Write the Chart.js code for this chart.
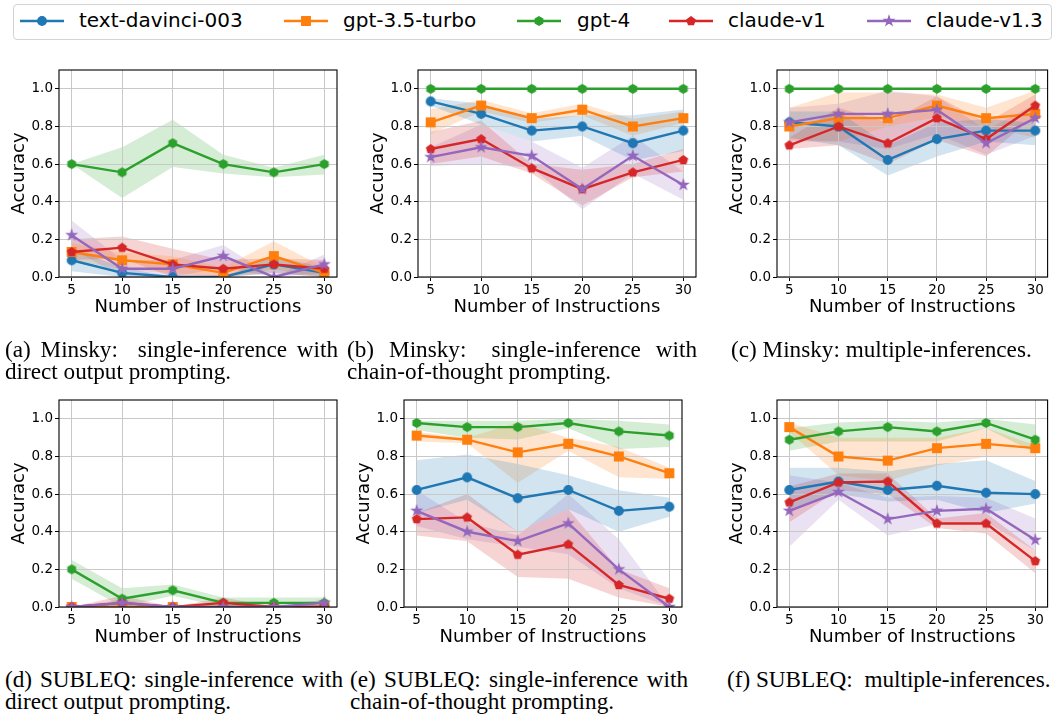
<!DOCTYPE html>
<html>
<head>
<meta charset="utf-8">
<script src="https://cdn.jsdelivr.net/npm/chart.js@4.4.0/dist/chart.umd.min.js"></script>
<style>
body { margin: 0; width: 1055px; height: 721px; position: relative; background: #fff; overflow: hidden; }
canvas.painel { position: absolute; }
.caixa-legenda { position: absolute; left: 13px; top: 4px; width: 1039px; height: 36px; border: 1px solid #d3d3d3; border-radius: 4px; box-sizing: border-box; }
.simbolo { position: absolute; top: 11px; }
.rotulo { position: absolute; top: 10px; font-family: 'DejaVu Sans'; font-size: 20px; line-height: 20px; white-space: nowrap; color: #000; }
.legenda-fig { position: absolute; font-family: 'Liberation Serif'; font-size: 23.2px; line-height: 21.5px; text-align: justify; color: #000; }
.legenda-fig.linha { white-space: nowrap; text-align: left; }
.dois-pontos { margin-right: 10px; }
.dois-pontos-f { margin-right: 6px; }
</style>
</head>
<body>
<div class="caixa-legenda"></div>

<canvas class="painel" id="painel-a" width="350" height="280" style="left:0px;top:45px"></canvas>
<canvas class="painel" id="painel-b" width="355" height="280" style="left:350px;top:45px"></canvas>
<canvas class="painel" id="painel-c" width="350" height="280" style="left:705px;top:45px"></canvas>
<canvas class="painel" id="painel-d" width="350" height="280" style="left:0px;top:375px"></canvas>
<canvas class="painel" id="painel-e" width="355" height="280" style="left:350px;top:375px"></canvas>
<canvas class="painel" id="painel-f" width="350" height="280" style="left:705px;top:375px"></canvas>

<div class="legenda-fig" style="left:5px;top:339px;width:333px">(a) Minsky:<span class="dois-pontos"></span> single-inference with direct output prompting.</div>
<div class="legenda-fig" style="left:347px;top:339px;width:350px">(b) Minsky:<span class="dois-pontos"></span> single-inference with chain-of-thought prompting.</div>
<div class="legenda-fig linha" style="left:731px;top:339px">(c) Minsky: multiple-inferences.</div>
<div class="legenda-fig" style="left:5px;top:669px;width:338px">(d) SUBLEQ: single-inference with direct output prompting.</div>
<div class="legenda-fig" style="left:350px;top:669px;width:338px">(e) SUBLEQ: single-inference with chain-of-thought prompting.</div>
<div class="legenda-fig linha" style="left:727px;top:669px">(f) SUBLEQ:<span class="dois-pontos-f"></span> multiple-inferences.</div>

<script>
// DADOS
const instrucoes = [5, 10, 15, 20, 25, 30]
const yTicks = [0, 0.2, 0.4, 0.6, 0.8, 1.0]
const modelos = ['text-davinci-003', 'gpt-3.5-turbo', 'gpt-4', 'claude-v1', 'claude-v1.3']

// (a) Minsky, direct output -- uma linha por modelo, na ordem de "modelos"
const minskyDiretoMedia = [
    [0.089, 0.022, 0.0, 0.0, 0.067, 0.022],
    [0.133, 0.089, 0.067, 0.022, 0.111, 0.022],
    [0.6, 0.556, 0.711, 0.6, 0.556, 0.6],
    [0.133, 0.156, 0.067, 0.044, 0.067, 0.044],
    [0.222, 0.044, 0.044, 0.111, 0.0, 0.067]
]
const minskyDiretoMin = [
    [0.03, 0.0, 0.0, 0.0, 0.02, 0.0],
    [0.09, 0.04, 0.02, 0.0, 0.04, 0.0],
    [0.6, 0.42, 0.585, 0.55, 0.53, 0.545],
    [0.09, 0.1, 0.0, 0.0, 0.02, 0.0],
    [0.15, 0.0, 0.0, 0.05, 0.0, 0.02]
]
const minskyDiretoMax = [
    [0.15, 0.05, 0.0, 0.0, 0.11, 0.05],
    [0.18, 0.13, 0.11, 0.05, 0.19, 0.05],
    [0.6, 0.69, 0.835, 0.65, 0.58, 0.65],
    [0.2, 0.215, 0.15, 0.09, 0.1, 0.09],
    [0.3, 0.09, 0.09, 0.17, 0.0, 0.12]
]

// (b) Minsky, chain-of-thought
const minskyCotMedia = [
    [0.933, 0.867, 0.778, 0.8, 0.711, 0.778],
    [0.822, 0.911, 0.844, 0.889, 0.8, 0.844],
    [1.0, 1.0, 1.0, 1.0, 1.0, 1.0],
    [0.68, 0.733, 0.578, 0.467, 0.556, 0.622],
    [0.637, 0.689, 0.644, 0.467, 0.644, 0.489]
]
const minskyCotMin = [
    [0.91, 0.81, 0.72, 0.75, 0.62, 0.67],
    [0.76, 0.88, 0.82, 0.86, 0.75, 0.82],
    [1.0, 1.0, 1.0, 1.0, 1.0, 1.0],
    [0.6, 0.64, 0.55, 0.38, 0.53, 0.56],
    [0.59, 0.6, 0.58, 0.36, 0.55, 0.41]
]
const minskyCotMax = [
    [0.95, 0.92, 0.84, 0.86, 0.86, 0.89],
    [0.89, 0.94, 0.87, 0.92, 0.84, 0.88],
    [1.0, 1.0, 1.0, 1.0, 1.0, 1.0],
    [0.77, 0.83, 0.6, 0.57, 0.6, 0.68],
    [0.69, 0.81, 0.72, 0.58, 0.75, 0.56]
]

// (c) Minsky, multiple-inferences
const minskyMultiMedia = [
    [0.822, 0.8, 0.622, 0.733, 0.778, 0.778],
    [0.8, 0.844, 0.844, 0.911, 0.844, 0.867],
    [1.0, 1.0, 1.0, 1.0, 1.0, 1.0],
    [0.7, 0.8, 0.711, 0.844, 0.733, 0.911],
    [0.822, 0.867, 0.867, 0.889, 0.711, 0.844]
]
const minskyMultiMin = [
    [0.74, 0.7, 0.54, 0.64, 0.72, 0.7],
    [0.73, 0.72, 0.8, 0.85, 0.8, 0.74],
    [1.0, 1.0, 1.0, 1.0, 1.0, 1.0],
    [0.68, 0.7, 0.6, 0.73, 0.64, 0.86],
    [0.72, 0.72, 0.68, 0.76, 0.65, 0.75]
]
const minskyMultiMax = [
    [0.88, 0.88, 0.7, 0.82, 0.84, 0.82],
    [0.9, 0.98, 0.98, 0.97, 0.9, 0.99],
    [1.0, 1.0, 1.0, 1.0, 1.0, 1.0],
    [0.74, 0.9, 0.82, 0.96, 0.82, 0.97],
    [0.9, 0.92, 0.99, 0.96, 0.78, 0.92]
]

// (d) SUBLEQ, direct output
const subleqDiretoMedia = [
    [0.0, 0.0, 0.0, 0.0, 0.0, 0.0],
    [0.0, 0.0, 0.0, 0.0, 0.0, 0.0],
    [0.2, 0.044, 0.089, 0.022, 0.022, 0.022],
    [0.0, 0.022, 0.0, 0.022, 0.0, 0.0],
    [0.0, 0.022, 0.0, 0.0, 0.0, 0.022]
]
const subleqDiretoMin = [
    [0.0, 0.0, 0.0, 0.0, 0.0, 0.0],
    [0.0, 0.0, 0.0, 0.0, 0.0, 0.0],
    [0.15, 0.0, 0.06, 0.0, 0.0, 0.0],
    [0.0, 0.0, 0.0, 0.0, 0.0, 0.0],
    [0.0, 0.0, 0.0, 0.0, 0.0, 0.0]
]
const subleqDiretoMax = [
    [0.0, 0.0, 0.0, 0.0, 0.0, 0.0],
    [0.0, 0.0, 0.0, 0.0, 0.0, 0.0],
    [0.25, 0.1, 0.12, 0.05, 0.05, 0.05],
    [0.0, 0.06, 0.0, 0.05, 0.0, 0.0],
    [0.0, 0.04, 0.0, 0.0, 0.0, 0.04]
]

// (e) SUBLEQ, chain-of-thought
const subleqCotMedia = [
    [0.622, 0.689, 0.578, 0.622, 0.511, 0.533],
    [0.911, 0.889, 0.822, 0.867, 0.8, 0.711],
    [0.978, 0.956, 0.956, 0.978, 0.933, 0.911],
    [0.467, 0.476, 0.278, 0.333, 0.117, 0.044],
    [0.511, 0.4, 0.35, 0.444, 0.2, 0.0]
]
const subleqCotMin = [
    [0.5, 0.57, 0.4, 0.52, 0.4, 0.48],
    [0.88, 0.87, 0.66, 0.83, 0.69, 0.68],
    [0.94, 0.9, 0.89, 0.95, 0.84, 0.85],
    [0.38, 0.35, 0.16, 0.15, 0.05, 0.0],
    [0.43, 0.36, 0.32, 0.28, 0.1, 0.0]
]
const subleqCotMax = [
    [0.78, 0.81, 0.76, 0.7, 0.62, 0.58],
    [0.93, 0.9, 0.98, 0.9, 0.85, 0.74],
    [0.99, 0.99, 0.99, 1.0, 0.99, 0.97],
    [0.5, 0.6, 0.4, 0.52, 0.2, 0.1],
    [0.62, 0.45, 0.38, 0.6, 0.36, 0.0]
]

// (f) SUBLEQ, multiple-inferences
const subleqMultiMedia = [
    [0.622, 0.667, 0.622, 0.644, 0.607, 0.6],
    [0.956, 0.8, 0.778, 0.844, 0.867, 0.844],
    [0.889, 0.933, 0.956, 0.933, 0.978, 0.889],
    [0.556, 0.662, 0.667, 0.444, 0.444, 0.244],
    [0.511, 0.611, 0.467, 0.511, 0.522, 0.356]
]
const subleqMultiMin = [
    [0.52, 0.6, 0.56, 0.57, 0.5, 0.55],
    [0.93, 0.7, 0.67, 0.75, 0.8, 0.8],
    [0.83, 0.88, 0.88, 0.88, 0.95, 0.82],
    [0.45, 0.62, 0.6, 0.42, 0.39, 0.18],
    [0.32, 0.57, 0.38, 0.44, 0.45, 0.3]
]
const subleqMultiMax = [
    [0.74, 0.74, 0.72, 0.76, 0.78, 0.67],
    [0.98, 0.9, 0.9, 0.9, 0.95, 0.86],
    [0.95, 0.98, 0.99, 0.98, 1.0, 0.97],
    [0.64, 0.71, 0.71, 0.47, 0.5, 0.3],
    [0.7, 0.66, 0.58, 0.59, 0.58, 0.47]
]

// ESTILO
const cores = ['#1f77b4', '#ff7f0e', '#2ca02c', '#d62728', '#9467bd']
const coresFaixa = ['rgba(31,119,180,0.2)', 'rgba(255,127,14,0.2)', 'rgba(44,160,44,0.2)', 'rgba(214,39,40,0.2)', 'rgba(148,103,189,0.2)']
const formas = ['circle', 'square', 'hexagon', 'pentagon', 'star']
const corGrade = '#c8c8c8'

Chart.defaults.font.family = "'DejaVu Sans'"
Chart.defaults.color = '#000'

function desenhaMarcador(ctx, forma, cx, cy, r, cor) {
    ctx.fillStyle = cor
    ctx.strokeStyle = cor
    ctx.lineWidth = 1.3
    ctx.beginPath()
    if (forma === 'circle') {
        ctx.arc(cx, cy, r, 0, 2 * Math.PI)
    } else if (forma === 'square') {
        ctx.rect(cx - r, cy - r, 2 * r, 2 * r)
    } else {
        const estrela = forma === 'star'
        const n = estrela ? 10 : (forma === 'hexagon' ? 6 : 5)
        for (let k = 0; k < n; k++) {
            const ang = -Math.PI / 2 + k * 2 * Math.PI / n
            const rr = (estrela && k % 2) ? r * 0.382 : r
            const px = cx + rr * Math.cos(ang)
            const py = cy + rr * Math.sin(ang)
            if (k === 0) ctx.moveTo(px, py)
            else ctx.lineTo(px, py)
        }
    }
    ctx.closePath()
    ctx.fill()
    ctx.stroke()
}

// marcadores prontos para usar como pointStyle
const marcadores = formas.map(function(forma, i) {
    const c = document.createElement('canvas')
    c.width = 16
    c.height = 16
    desenhaMarcador(c.getContext('2d'), forma, 8, 8, forma === 'star' ? 4.8 : 4.3, cores[i])
    return c
})

// LEGENDA
const legendaLinhaX = [20, 284, 517, 669, 867]
const legendaTextoX = [79, 343, 577, 728, 926]
modelos.forEach(function(nome, i) {
    const c = document.createElement('canvas')
    c.width = 44
    c.height = 20
    c.className = 'simbolo'
    c.style.left = legendaLinhaX[i] + 'px'
    const ctx = c.getContext('2d')
    ctx.strokeStyle = cores[i]
    ctx.lineWidth = 2.6
    ctx.beginPath()
    ctx.moveTo(0, 10)
    ctx.lineTo(44, 10)
    ctx.stroke()
    desenhaMarcador(ctx, formas[i], 22, 10, formas[i] === 'star' ? 4.8 : 4.3, cores[i])
    document.body.appendChild(c)

    const span = document.createElement('span')
    span.className = 'rotulo'
    span.style.left = legendaTextoX[i] + 'px'
    span.textContent = nome
    document.body.appendChild(span)
})

// moldura preta em volta da area do grafico
const moldura = {
    id: 'moldura',
    afterDraw(chart) {
        const ctx = chart.ctx
        const a = chart.chartArea
        ctx.save()
        ctx.strokeStyle = '#000'
        ctx.lineWidth = 1.1
        ctx.strokeRect(a.left, a.top, a.right - a.left, a.bottom - a.top)
        ctx.restore()
    }
}

function pontos(valores) {
    return instrucoes.map(function(x, i) { return { x: x, y: valores[i] } })
}

function criaPainel(id, medias, minimos, maximos, larguraY, padDireita) {
    const datasets = []
    // linhas de media (primeiro, pra que o alvo do fill nunca seja o indice 0)
    for (let m = 0; m < modelos.length; m++) {
        datasets.push({
            label: modelos[m],
            data: pontos(medias[m]),
            borderColor: cores[m],
            backgroundColor: cores[m],
            borderWidth: 2.4,
            pointStyle: marcadores[m],
            pointRadius: 5,
            fill: false,
            tension: 0,
            order: 10 - m
        })
    }
    // faixas min-max
    for (let m = 0; m < modelos.length; m++) {
        datasets.push({
            data: pontos(minimos[m]),
            borderColor: 'transparent',
            borderWidth: 0,
            pointRadius: 0,
            fill: false,
            order: 50
        })
        datasets.push({
            data: pontos(maximos[m]),
            borderColor: 'transparent',
            borderWidth: 0,
            pointRadius: 0,
            backgroundColor: coresFaixa[m],
            fill: '-1',
            order: 50
        })
    }

    const ctx = document.getElementById(id).getContext('2d')
    return new Chart(ctx, {
        type: 'line',
        data: { datasets: datasets },
        plugins: [moldura],
        options: {
            responsive: false,
            animation: false,
            events: [],
            clip: 0,
            layout: { padding: { left: 0, top: 25, right: padDireita, bottom: 0 } },
            scales: {
                x: {
                    type: 'linear',
                    min: 3.75,
                    max: 31.25,
                    afterBuildTicks: function(ax) { ax.ticks = instrucoes.map(function(v) { return { value: v } }) },
                    afterFit: function(ax) { ax.height = 48 },
                    ticks: {
                        callback: function(v) { return String(v) },
                        font: { size: 13.5 },
                        color: '#000',
                        padding: 1,
                        maxRotation: 0,
                        autoSkip: false
                    },
                    grid: { color: corGrade, lineWidth: 1, tickLength: 4, tickColor: '#000', drawTicks: true },
                    border: { display: false },
                    title: {
                        display: true,
                        text: 'Number of Instructions',
                        font: { size: 18 },
                        color: '#000',
                        padding: { top: 0, bottom: 7 }
                    }
                },
                y: {
                    type: 'linear',
                    min: 0,
                    max: 1.1,
                    afterBuildTicks: function(ax) { ax.ticks = yTicks.map(function(v) { return { value: v } }) },
                    afterFit: function(ax) { ax.width = larguraY },
                    ticks: {
                        callback: function(v) { return v.toFixed(1) },
                        font: { size: 13.5 },
                        color: '#000',
                        padding: 2
                    },
                    grid: { color: corGrade, lineWidth: 1, tickLength: 4, tickColor: '#000', drawTicks: true },
                    border: { display: false },
                    title: {
                        display: true,
                        text: 'Accuracy',
                        font: { size: 18 },
                        color: '#000',
                        padding: { top: larguraY - 50.8, bottom: 0 }
                    }
                }
            },
            plugins: {
                legend: { display: false },
                tooltip: { enabled: false },
                filler: { drawTime: 'beforeDraw' }
            }
        }
    })
}

criaPainel('painel-a', minskyDiretoMedia, minskyDiretoMin, minskyDiretoMax, 59, 13)
criaPainel('painel-b', minskyCotMedia, minskyCotMin, minskyCotMax, 68, 9)
criaPainel('painel-c', minskyMultiMedia, minskyMultiMin, minskyMultiMax, 72, 1)
criaPainel('painel-d', subleqDiretoMedia, subleqDiretoMin, subleqDiretoMax, 59, 13)
criaPainel('painel-e', subleqCotMedia, subleqCotMin, subleqCotMax, 54, 23)
criaPainel('painel-f', subleqMultiMedia, subleqMultiMin, subleqMultiMax, 72, 1)
</script>
</body>
</html>
